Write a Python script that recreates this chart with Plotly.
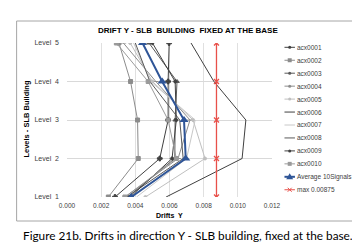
import plotly.graph_objects as go

levels = [1, 2, 3, 4, 5]
level_labels = ["Level  1", "Level  2", "Level  3", "Level  4", "Level  5"]
series_names = ["acx0001", "acx0002", "acx0003", "acx0004", "acx0005",
                "acx0006", "acx0007", "acx0008", "acx0009", "acx0010"]
acx0001 = [0.00281, 0.00543, 0.00592, 0.00592, 0.00598]
acx0002 = [0.00242, 0.00417, 0.00413, 0.00372, 0.00304]
acx0003 = [0.00355, 0.00631, 0.00633, 0.00644, 0.00480]
acx0004 = [0.00339, 0.00650, 0.00720, 0.00520, 0.00330]
acx0005 = [0.00459, 0.00808, 0.00738, 0.00500, 0.00370]
acx0006 = [0.00580, 0.01025, 0.01047, 0.00860, 0.00726]
acx0007 = [0.00407, 0.00700, 0.00750, 0.00490, 0.00390]
acx0008 = [0.00350, 0.00680, 0.00660, 0.00485, 0.00400]
acx0009 = [0.00370, 0.00615, 0.00640, 0.00633, 0.00500]
acx0010 = [0.00339, 0.00640, 0.00592, 0.00475, 0.00289]
average = [0.00376, 0.00695, 0.00685, 0.00557, 0.00442]
max_limit = [0.00875, 0.00875, 0.00875, 0.00875, 0.00875]
x_ticks = [0.000, 0.002, 0.004, 0.006, 0.008, 0.010, 0.012]

all_series = [acx0001, acx0002, acx0003, acx0004, acx0005,
              acx0006, acx0007, acx0008, acx0009, acx0010]
styles = [
    ("#404040", "cross", 4),
    ("#8c8c8c", "square", 4),
    ("#595959", "triangle-up", 4),
    ("#8c8c8c", "line-ew", 4),
    ("#bfbfbf", "circle", 3),
    ("#404040", None, 0),
    ("#c8c8c8", None, 0),
    ("#595959", None, 0),
    ("#404040", "diamond", 3),
    ("#9a9a9a", "square", 4),
]

FONT = "Liberation Sans, Arial"

fig = go.Figure()
for name, vals, (col, sym, sz) in zip(series_names, all_series, styles):
    mode = "lines+markers" if sym else "lines"
    fig.add_trace(go.Scatter(x=vals, y=levels, mode=mode, name=name,
                             line=dict(color=col, width=1),
                             marker=dict(symbol=sym or "circle", size=sz, color=col,
                                         line=dict(color=col, width=1)),
                             showlegend=False))
fig.add_trace(go.Scatter(x=average, y=levels, mode="lines+markers", name="Average 10Signals",
                         line=dict(color="#2f5597", width=2),
                         marker=dict(symbol="triangle-up", size=8, color="#2f5597"),
                         showlegend=False))
fig.add_trace(go.Scatter(x=max_limit, y=levels, mode="lines+markers", name="max 0.00875",
                         line=dict(color="#e8504a", width=1.3),
                         marker=dict(symbol="x-thin", size=5, color="#e8504a",
                                     line=dict(color="#e8504a", width=1.3)),
                         showlegend=False))

W, H = 360, 242
L, R, T, B = 58.5, 96, 35, 53
pw, ph = W - L - R, H - T - B

def px(x):
    return (x - L) / pw

def py(y):
    return (H - B - y) / ph

shapes = [dict(type="rect", xref="paper", yref="paper",
               x0=px(8), x1=px(351), y0=py(13), y1=py(213),
               line=dict(color="#a6a6a6", width=1), layer="below")]
annotations = []

legend_names = series_names + ["Average 10Signals", "max 0.00875"]
legend_styles = styles + [("#2f5597", "triangle", 6), ("#e8504a", "x", 4)]
for i, (nm, (col, sym, sz)) in enumerate(zip(legend_names, legend_styles)):
    yy = 39.3 + 12.95 * i
    lw = 2 if nm.startswith("Average") else 1
    shapes.append(dict(type="line", xref="paper", yref="paper",
                       x0=px(276.5), x1=px(287), y0=py(yy), y1=py(yy),
                       line=dict(color=col, width=lw)))
    cx = 281.75
    if sym in ("square",):
        shapes.append(dict(type="rect", xref="paper", yref="paper",
                           x0=px(cx - 2), x1=px(cx + 2), y0=py(yy - 2), y1=py(yy + 2),
                           fillcolor=col, line=dict(width=0)))
    elif sym in ("cross", "diamond", "circle", "triangle-up", "line-ew"):
        shapes.append(dict(type="circle", xref="paper", yref="paper",
                           x0=px(cx - 1.5), x1=px(cx + 1.5), y0=py(yy - 1.5), y1=py(yy + 1.5),
                           fillcolor=col, line=dict(width=0)))
    elif sym == "triangle":
        shapes.append(dict(type="path", xref="paper", yref="paper",
                           path="M {} {} L {} {} L {} {} Z".format(
                               px(cx - 3.5), py(yy + 2.5), px(cx + 3.5), py(yy + 2.5),
                               px(cx), py(yy - 3.5)),
                           fillcolor=col, line=dict(width=0)))
    elif sym == "x":
        for d in (1, -1):
            shapes.append(dict(type="line", xref="paper", yref="paper",
                               x0=px(cx - 2), x1=px(cx + 2), y0=py(yy - 2 * d), y1=py(yy + 2 * d),
                               line=dict(color=col, width=1)))
    annotations.append(dict(text=nm, xref="paper", yref="paper", x=px(287.5), y=py(yy),
                            xanchor="left", yanchor="middle", showarrow=False,
                            font=dict(family=FONT, size=6.5, color="#404040")))

annotations.append(dict(text="<b>DRIFT Y - SLB  BUILDING  FIXED AT THE BASE</b>",
                        xref="paper", yref="paper", x=px(180), y=py(23),
                        xanchor="center", yanchor="middle", showarrow=False,
                        font=dict(family=FONT, size=8, color="#000000")))
annotations.append(dict(text="<b>Levels - SLB Building</b>", textangle=-90,
                        xref="paper", yref="paper", x=px(17), y=py(111),
                        xanchor="center", yanchor="middle", showarrow=False,
                        font=dict(family=FONT, size=7.5, color="#000000")))
annotations.append(dict(text="<b>Drifts  Y</b>",
                        xref="paper", yref="paper", x=px(161), y=py(207),
                        xanchor="center", yanchor="middle", showarrow=False,
                        font=dict(family=FONT, size=7, color="#000000")))
annotations.append(dict(text="Figure 21b. Drifts in direction Y - SLB building, fixed at the base.",
                        xref="paper", yref="paper", x=px(180), y=py(227),
                        xanchor="center", yanchor="middle", showarrow=False,
                        font=dict(family="Lato, Open Sans", size=11.8, color="#000000")))

fig.update_layout(
    width=W, height=H,
    margin=dict(l=L, r=R, t=T, b=B, pad=0),
    paper_bgcolor="white", plot_bgcolor="white",
    showlegend=False,
    shapes=shapes, annotations=annotations,
    xaxis=dict(range=[0, 0.012], tickvals=x_ticks,
               ticktext=["%.3f" % v for v in x_ticks],
               showgrid=True, gridcolor="#e0e0e0", gridwidth=1,
               zeroline=False, showline=False, ticks="", ticklabelstandoff=3,
               tickfont=dict(family=FONT, size=6.5, color="#404040")),
    yaxis=dict(range=[1, 5], tickvals=levels, ticktext=level_labels,
               showgrid=True, gridcolor="#d9d9d9", gridwidth=1,
               zeroline=False, showline=False, ticks="", ticklabelstandoff=7,
               tickfont=dict(family=FONT, size=7, color="#404040")),
)

fig.write_html("out.html")
